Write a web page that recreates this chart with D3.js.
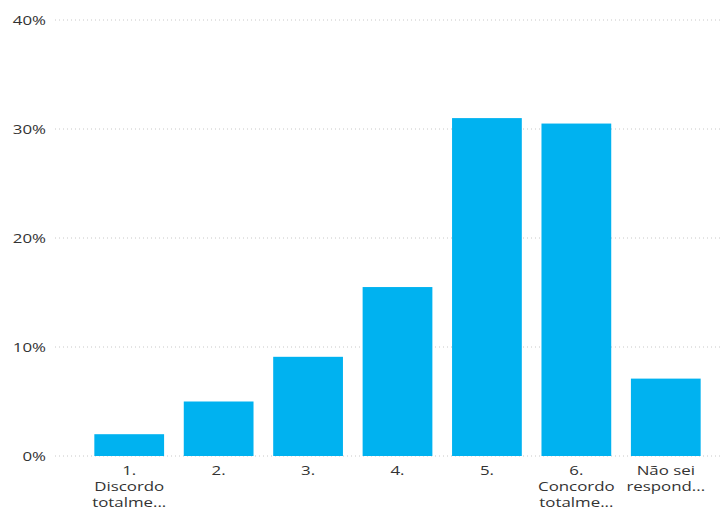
<!DOCTYPE html>
<html><head><meta charset="utf-8">
<script src="https://cdn.jsdelivr.net/npm/d3@7"></script>
<style>body{margin:0;background:#fff}svg{display:block}text{font-family:"Open Sans","Noto Sans",sans-serif}</style>
</head><body><svg id="c" width="720" height="510"></svg>
<script>
const categories = [["1.","Discordo","totalme..."],["2."],["3."],["4."],["5."],["6.","Concordo","totalme..."],["Não sei","respond..."]];
const values = [2.0, 5.0, 9.1, 15.5, 31.0, 30.5, 7.1];
const yTicks = [0, 10, 20, 30, 40];

const sx = 1.35;
const svg = d3.select("#c");
const ids = categories.map((c,i)=>i);
const x = d3.scaleBand().domain(ids).range([84.5, 710.5]).paddingInner(0.22).paddingOuter(0.11);
const y = d3.scaleLinear().domain([0,40]).range([456,20]);

const grid = svg.append("g");
yTicks.forEach(t=>{
  grid.append("line").attr("x1",55).attr("x2",720).attr("y1",y(t)).attr("y2",y(t))
    .attr("stroke","#c8c8c8").attr("stroke-width",1).attr("stroke-dasharray","1,3");
  grid.append("text").attr("transform",`translate(46,${y(t)+4.5}) scale(${sx},1)`).attr("text-anchor","end")
    .attr("font-size",12.5).attr("fill","#333").text(t+"%");
});

svg.append("g").selectAll("rect").data(values).join("rect")
  .attr("x",(d,i)=>x(i)).attr("width",x.bandwidth())
  .attr("y",d=>y(d)).attr("height",d=>y(0)-y(d)).attr("fill","#00b2f0");

categories.forEach((lines,i)=>{
  lines.forEach((l,j)=>{
    svg.append("text").attr("text-anchor","middle").attr("font-size",12.5).attr("fill","#333")
      .attr("transform",`translate(${x(i)+x.bandwidth()/2},${475+j*16}) scale(${sx},1)`).text(l);
  });
});
</script></body></html>
